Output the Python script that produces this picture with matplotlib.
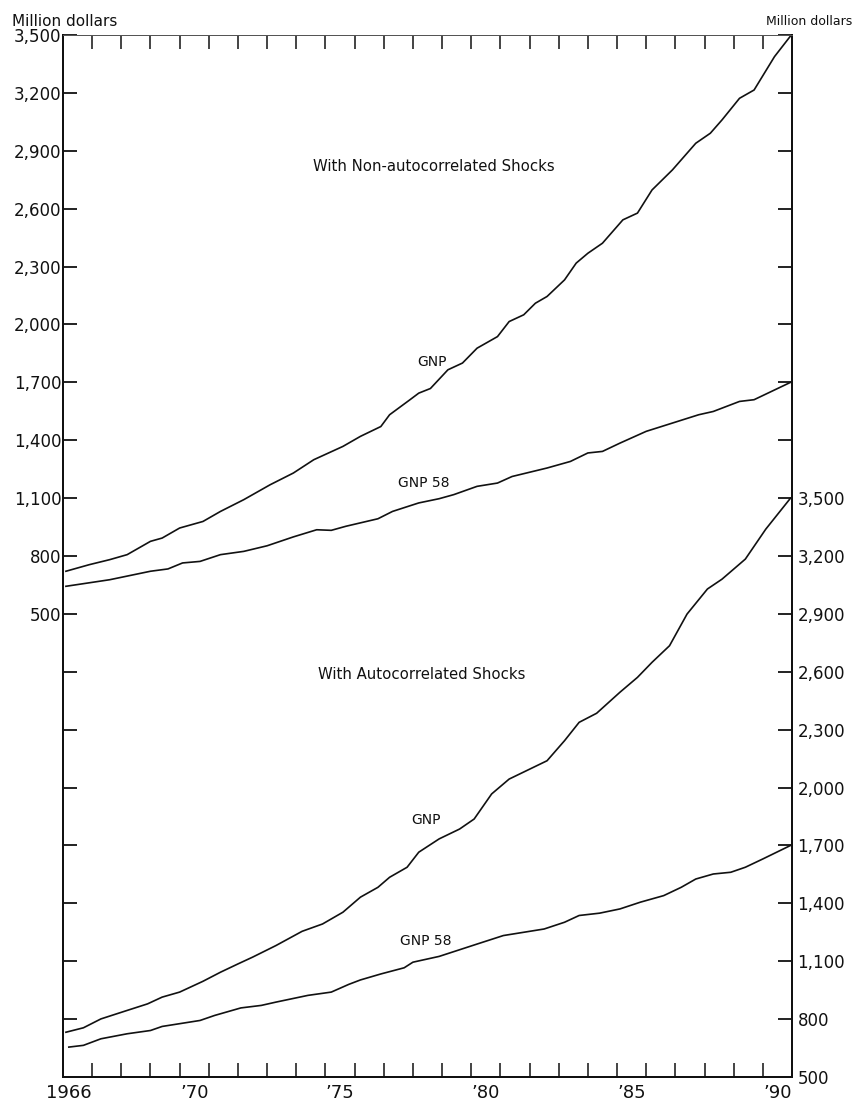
import matplotlib
matplotlib.use("Agg")
import matplotlib.pyplot as plt
from matplotlib.ticker import FixedLocator, NullFormatter

# ---------------- data ----------------
# Upper panel: With Non-autocorrelated Shocks (left scale)
upper_gnp_years = [1966.1, 1966.9, 1967.6, 1968.2, 1969.0, 1969.4, 1970.0, 1970.8, 1971.4, 1972.2,
                   1973.1, 1973.9, 1974.6, 1975.6, 1976.2, 1976.9, 1977.2, 1977.9, 1978.2, 1978.6,
                   1979.2, 1979.7, 1980.2, 1980.9, 1981.3, 1981.8, 1982.2, 1982.6, 1983.2, 1983.6,
                   1984.0, 1984.5, 1985.2, 1985.7, 1986.2, 1986.9, 1987.7, 1988.2, 1988.6, 1989.2,
                   1989.7, 1990.4, 1990.95]
upper_gnp = [721, 755, 781, 807, 876, 893, 945, 979, 1031, 1092,
             1169, 1230, 1299, 1368, 1420, 1471, 1532, 1610, 1644, 1668,
             1765, 1800, 1877, 1937, 2015, 2050, 2110, 2145, 2231, 2318,
             2369, 2421, 2542, 2577, 2697, 2801, 2939, 2991, 3060, 3172,
             3215, 3388, 3495]

upper_gnp58_years = [1966.1, 1967.6, 1969.0, 1969.6, 1970.1, 1970.7, 1971.4, 1972.2, 1973.0, 1973.9,
                     1974.7, 1975.2, 1975.7, 1976.8, 1977.3, 1978.2, 1978.9, 1979.4, 1980.2, 1980.9,
                     1981.4, 1982.6, 1983.4, 1984.0, 1984.5, 1985.1, 1986.0, 1986.9, 1987.8, 1988.3,
                     1989.2, 1989.7, 1990.95]
upper_gnp58 = [643, 677, 721, 733, 764, 772, 807, 824, 853, 899,
               936, 933, 954, 993, 1031, 1075, 1097, 1118, 1161, 1178,
               1212, 1256, 1290, 1334, 1342, 1385, 1446, 1489, 1532, 1549,
               1601, 1610, 1700]

# Lower panel: With Autocorrelated Shocks (right scale)
lower_gnp_years = [1966.1, 1966.7, 1967.3, 1968.2, 1968.9, 1969.4, 1970.0, 1970.8, 1971.4, 1972.0,
                   1972.5, 1973.3, 1974.2, 1974.9, 1975.6, 1976.2, 1976.8, 1977.2, 1977.8, 1978.2,
                   1978.9, 1979.6, 1980.1, 1980.7, 1981.3, 1982.6, 1983.2, 1983.7, 1984.3, 1985.1,
                   1985.7, 1986.2, 1986.8, 1987.4, 1988.1, 1988.6, 1989.4, 1990.1, 1990.95]
lower_gnp = [732, 755, 801, 845, 879, 914, 940, 996, 1043, 1086,
             1121, 1181, 1255, 1293, 1354, 1432, 1483, 1535, 1587, 1665,
             1734, 1785, 1837, 1967, 2044, 2139, 2243, 2338, 2385, 2494,
             2571, 2649, 2735, 2899, 3029, 3080, 3184, 3339, 3500]

lower_gnp58_years = [1966.2, 1966.7, 1967.3, 1968.2, 1969.0, 1969.4, 1970.7, 1971.2, 1972.1, 1972.8,
                     1973.3, 1974.4, 1975.2, 1975.8, 1976.2, 1976.9, 1977.7, 1978.0, 1978.9, 1980.2,
                     1981.1, 1982.5, 1983.2, 1983.7, 1984.4, 1985.1, 1985.8, 1986.6, 1987.2, 1987.7,
                     1988.3, 1988.9, 1989.4, 1990.0, 1990.95]
lower_gnp58 = [655, 664, 698, 724, 741, 762, 793, 819, 858, 871,
               888, 923, 940, 980, 1003, 1034, 1066, 1095, 1125, 1189,
               1233, 1267, 1302, 1337, 1349, 1371, 1406, 1440, 1483, 1526,
               1552, 1561, 1587, 1630, 1700]

left_tick_labels = ["3,500", "3,200", "2,900", "2,600", "2,300", "2,000", "1,700", "1,400", "1,100", "800", "500"]
right_tick_labels = ["3,500", "3,200", "2,900", "2,600", "2,300", "2,000", "1,700", "1,400", "1,100", "800", "500"]
x_label_pos = [1966.2, 1970.5, 1975.5, 1980.5, 1985.5, 1990.5]
x_labels = ["1966", "\u201970", "\u201975", "\u201980", "\u201985", "\u201990"]

# ---------------- figure ----------------
fig = plt.figure(figsize=(8.53, 11.01), dpi=100)
ax = fig.add_axes([63 / 853, 24 / 1101, (792 - 63) / 853, (1077 - 35) / 1101])
ax2 = ax.twinx()

ax.set_xlim(1966, 1991)
ax.set_ylim(-1900, 3500)
ax2.set_ylim(500, 5900)

lc = "#111111"
ax.plot(upper_gnp_years, upper_gnp, color=lc, lw=1.2)
ax.plot(upper_gnp58_years, upper_gnp58, color=lc, lw=1.2)
ax2.plot(lower_gnp_years, lower_gnp, color=lc, lw=1.2)
ax2.plot(lower_gnp58_years, lower_gnp58, color=lc, lw=1.2)

# left axis ticks
left_ticks = list(range(3500, -1901, -300))
ax.yaxis.set_major_locator(FixedLocator(left_ticks))
ax.set_yticklabels([left_tick_labels[i] if i < len(left_tick_labels) else "" for i in range(len(left_ticks))])
ax.tick_params(axis="y", direction="in", length=10, width=1.3, pad=1, labelsize=12, colors=lc)

# right axis ticks
right_ticks = list(range(5900, 499, -300))
ax2.yaxis.set_major_locator(FixedLocator(right_ticks))
rlabels = []
for t in right_ticks:
    if t <= 3500:
        rlabels.append(right_tick_labels[(3500 - t) // 300])
    else:
        rlabels.append("")
ax2.set_yticklabels(rlabels)
ax2.tick_params(axis="y", direction="in", length=10, width=1.3, pad=4, labelsize=12, colors=lc)

# x ticks: every year, inward, on bottom and top
ax.xaxis.set_major_locator(FixedLocator(list(range(1966, 1992))))
ax.xaxis.set_major_formatter(NullFormatter())
ax.xaxis.set_minor_locator(FixedLocator(x_label_pos))
ax.set_xticklabels(x_labels, minor=True)
ax.tick_params(axis="x", which="major", direction="in", length=10, width=1.1,
               top=True, bottom=True, colors=lc)
ax.tick_params(axis="x", which="minor", length=0, pad=5, labelsize=13, colors=lc)

for a in (ax, ax2):
    for s in ("left", "right", "bottom"):
        a.spines[s].set_linewidth(1.4)
        a.spines[s].set_color(lc)
    a.spines["top"].set_linewidth(0.7)
    a.spines["top"].set_color("#555555")

# annotations
tfont = dict(fontsize=10.7, color=lc, ha="center", va="center")
lfont = dict(fontsize=10, color=lc, ha="center", va="center")
ax.text(1978.72, 2818, "With Non-autocorrelated Shocks", **tfont)
ax.text(1978.65, 1806, "GNP", **lfont)
ax.text(1978.38, 1179, "GNP 58", **lfont)
ax.text(1978.31, 185, "With Autocorrelated Shocks", **tfont)
ax.text(1978.45, -566, "GNP", **lfont)
ax.text(1978.45, -1193, "GNP 58", **lfont)

fig.text(12 / 853, 1 - 21.7 / 1101, "Million dollars", fontsize=11, ha="left", va="center", color=lc)
fig.text(852 / 853, 1 - 21.7 / 1101, "Million dollars", fontsize=9, ha="right", va="center", color=lc)

fig.savefig("out.png", dpi=100)
